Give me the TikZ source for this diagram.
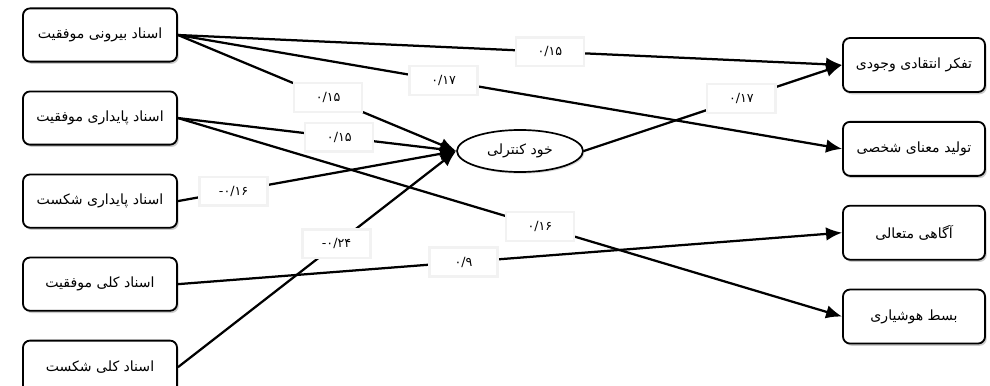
\documentclass[tikz,border=0pt]{standalone}
\usepackage{fontspec}
\TeXXeTstate=1
\newfontfamily\farsi[Script=Arabic]{DejaVu Sans}
\usetikzlibrary{positioning,shadows,arrows.meta,shapes.geometric}
\newcommand{\fa}[1]{{\farsi\beginR #1\endR}}

\begin{document}
\begin{tikzpicture}[
    x=0.025cm, y=-0.025cm,
    node distance   = 0.7cm and 1.2cm,
    src/.style      = {draw, line width=1.3pt, rounded corners=5pt, fill=white,
                       minimum width=3.85cm, minimum height=1.33cm,
                       font=\normalsize, align=center,
                       drop shadow={shadow xshift=1.2pt, shadow yshift=-1.6pt, fill=black!40}},
    dst/.style      = {src, minimum width=3.55cm, minimum height=1.35cm},
    med/.style      = {draw, line width=1.2pt, ellipse, fill=white,
                       minimum width=3.15cm, minimum height=1.05cm, font=\normalsize,
                       drop shadow={shadow xshift=1pt, shadow yshift=-1.2pt, fill=black!30}},
    coef/.style     = {fill=white, draw=black!5, minimum width=1.7cm,
                       minimum height=0.72cm, font=\farsi\small, inner sep=1pt},
    arr/.style      = {-{Latex[length=4mm,width=3.4mm]}, line width=1.6pt}
]
\useasboundingbox (0,0) rectangle (990,386);

\node[src] (extsucc) at (100,35) {\fa{اسناد بیرونی موفقیت}};
\node[src, below=of extsucc] (stabsucc) {\fa{اسناد پایداری موفقیت}};
\node[src, below=of stabsucc] (stabfail) {\fa{اسناد پایداری شکست}};
\node[src, below=of stabfail] (globsucc) {\fa{اسناد کلی موفقیت}};
\node[src, below=of globsucc] (globfail) {\fa{اسناد کلی شکست}};

\node[med] (selfctl) at (520,151) {\fa{خود کنترلی}};

\node[dst] (critical) at (914,65) {\fa{تفکر انتقادی وجودی}};
\node[dst, below=of critical] (meaning) {\fa{تولید معنای شخصی}};
\node[dst, below=of meaning] (aware) {\fa{آگاهی متعالی}};
\node[dst, below=of aware] (conscious) {\fa{بسط هوشیاری}};

\draw[arr] (extsucc.east) -- node[coef, pos=0.56] {۰/۱۵} (critical.west);
\draw[arr] (extsucc.east) -- node[coef, pos=0.40] {۰/۱۷} (meaning.west);
\draw[arr] (extsucc.east) -- node[coef, pos=0.54] {۰/۱۵} (selfctl.west);
\draw[arr] (stabsucc.east) -- node[coef, pos=0.58] {۰/۱۵} (selfctl.west);
\draw[arr] (stabsucc.east) -- node[coef, pos=0.545] {۰/۱۶} (conscious.west);
\draw[arr] (stabfail.east) -- node[coef, pos=0.2] {\hbox{-}۰/۱۶} (selfctl.west);
\draw[arr] (globsucc.east) -- node[coef, pos=0.43] {۰/۹} (aware.west);
\draw[arr] (globfail.east) -- node[coef, pos=0.57] {\hbox{-}۰/۲۴} (selfctl.west);
\draw[arr] (selfctl.east) -- node[coef, pos=0.61] {۰/۱۷} (critical.west);

\end{tikzpicture}
\end{document}
